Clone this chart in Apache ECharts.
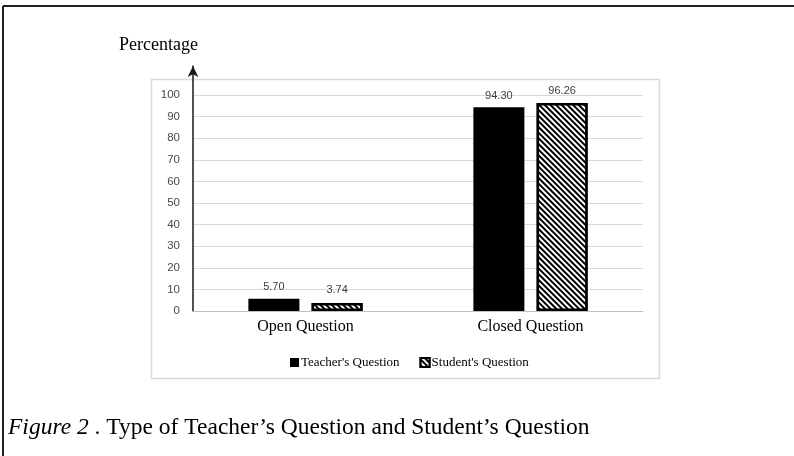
<!DOCTYPE html>
<html>
<head>
<meta charset="utf-8">
<script src="https://cdn.jsdelivr.net/npm/echarts@6/dist/echarts.min.js"></script>
<style>
html,body{margin:0;padding:0;background:#fff;}
#chart{width:794px;height:456px;}
</style>
</head>
<body>
<div id="chart"></div>
<script>
const categories = ['Open Question', 'Closed Question'];
const teacherValues = [5.70, 94.30];
const studentValues = [3.74, 96.26];
const seriesNames = ["Teacher's Question", "Student's Question"];
const yTicks = [0, 10, 20, 30, 40, 50, 60, 70, 80, 90, 100];

const chart = echarts.init(document.getElementById('chart'), null, {renderer: 'canvas'});
const serif = 'Liberation Serif, Times New Roman, serif';
const sans = 'Liberation Sans, Arial, sans-serif';

const option = {
  animation: false,
  backgroundColor: '#fff',
  title: [
    {
      text: 'Percentage', left: 114, top: 31,
      textStyle: {fontFamily: serif, fontSize: 18, fontWeight: 'normal', color: '#000'}
    },
    {
      text: '{i|Figure 2} . Type of Teacher\u2019s Question and Student\u2019s Question',
      left: 3, top: 411,
      textStyle: {
        fontFamily: serif, fontSize: 23.5, fontWeight: 'normal', color: '#000',
        rich: {i: {fontFamily: serif, fontSize: 23.5, fontStyle: 'italic', color: '#000'}}
      }
    }
  ],
  graphic: [
    {type: 'line', shape: {x1: 3, y1: 6, x2: 794, y2: 6}, style: {stroke: '#231f20', lineWidth: 2}},
    {type: 'line', shape: {x1: 3, y1: 6, x2: 3, y2: 456}, style: {stroke: '#231f20', lineWidth: 2}},
    {type: 'rect', shape: {x: 151.5, y: 79.5, width: 508, height: 299}, style: {fill: 'none', stroke: '#d9d9d9', lineWidth: 1.5}, z: -1}
  ],
  legend: {
    left: 285, top: 351,
    itemWidth: 9, itemHeight: 9, itemGap: 20,
    icon: 'rect',
    data: seriesNames,
    textStyle: {fontFamily: serif, fontSize: 13, color: '#000', padding: [0, 0, 0, -3]}
  },
  grid: [
    {left: 193, right: 151, top: 95, bottom: 145, containLabel: false},
    {left: 193, right: 151, top: 66, bottom: 145, containLabel: false}
  ],
  xAxis: [
    {
      type: 'category', gridIndex: 0,
      data: categories,
      axisLine: {show: true, lineStyle: {color: '#bfbfbf', width: 1}},
      axisTick: {show: false},
      axisLabel: {fontFamily: serif, fontSize: 16, color: '#000', margin: 8}
    },
    {
      type: 'category', gridIndex: 1, data: categories, show: false
    }
  ],
  yAxis: [
    {
      type: 'value', gridIndex: 0, min: 0, max: 100, interval: 10,
      axisLine: {show: false},
      axisTick: {show: false},
      axisLabel: {fontFamily: sans, fontSize: 11.5, color: '#4a4a4a', margin: 13},
      splitLine: {show: true, lineStyle: {color: '#d9d9d9', width: 1}}
    },
    {
      type: 'value', gridIndex: 1, min: 0, max: 100, position: 'left',
      axisLine: {show: true, symbol: ['none', 'arrow'], symbolSize: [8, 11], lineStyle: {color: '#1a1a1a', width: 1.5}},
      axisTick: {show: false},
      axisLabel: {show: false},
      splitLine: {show: false}
    }
  ],
  series: [
    {
      name: seriesNames[0], type: 'bar', xAxisIndex: 0, yAxisIndex: 0,
      data: teacherValues, barWidth: 51, barGap: '24%',
      itemStyle: {color: '#000'},
      label: {show: true, position: 'top', distance: 6, formatter: p => p.value.toFixed(2),
        fontFamily: sans, fontSize: 11, color: '#404040'}
    },
    {
      name: seriesNames[1], type: 'bar', xAxisIndex: 0, yAxisIndex: 0,
      data: studentValues, barWidth: 51,
      itemStyle: {
        color: '#fff', borderColor: '#000', borderWidth: 2.5,
        decal: {symbol: 'rect', symbolSize: 1, color: '#000', backgroundColor: '#fff',
          dashArrayX: [1, 0], dashArrayY: [1.5, 1.7], rotation: Math.PI / 4}
      },
      label: {show: true, position: 'top', distance: 7, formatter: p => p.value.toFixed(2),
        fontFamily: sans, fontSize: 11, color: '#404040'}
    }
  ]
};
chart.setOption(option);
</script>
</body>
</html>
